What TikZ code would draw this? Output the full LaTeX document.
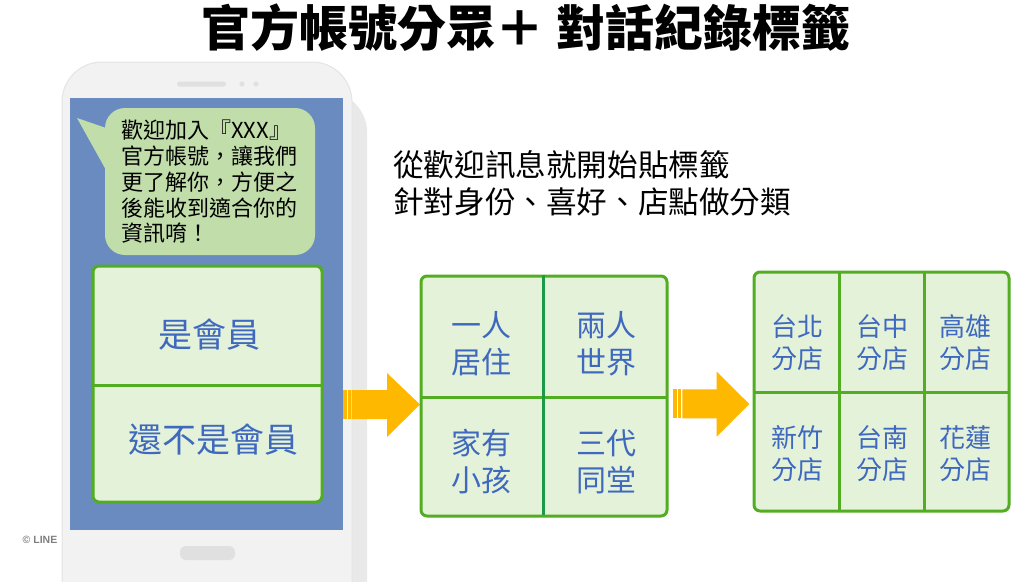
\documentclass[tikz,border=0pt]{standalone}
\usepackage{fontspec}
\newfontfamily\cjk{Noto Sans CJK TC}
\newfontfamily\lsans{Liberation Sans}
\definecolor{tblue}{HTML}{3F68BF}
\definecolor{boxfill}{HTML}{E4F2D9}
\definecolor{boxedge}{HTML}{52AD22}
\definecolor{darkdiv}{HTML}{1C9B45}
\definecolor{scrblue}{HTML}{6A8BBF}
\definecolor{bubble}{HTML}{C0DDAA}
\definecolor{arrowc}{HTML}{FFB800}
\definecolor{phbody}{HTML}{F2F2F2}
\definecolor{phedge}{HTML}{E4E4E4}
\definecolor{phshadow}{HTML}{E9E9E9}
\definecolor{phdark}{HTML}{E0E0E0}
\begin{document}
\begin{tikzpicture}[x=1pt,y=-1pt,
  panel/.style={fill=boxfill, draw=boxedge, line width=3pt, rounded corners=6pt, inner sep=0pt},
  divider/.style={draw=boxedge, line width=3pt},
  lbl/.style={font=\cjk\fontsize{30}{37}\selectfont, text=tblue, align=center, inner sep=0pt},
  shop/.style={font=\cjk\fontsize{26}{32}\selectfont, text=tblue, align=center, inner sep=0pt},
  menutext/.style={font=\cjk\fontsize{34}{40}\selectfont, text=tblue, inner sep=0pt},
  blockarrow/.style={fill=arrowc}]
\useasboundingbox (0,0) rectangle (1024,581);
\fill[white] (0,0) rectangle (1024,581);

% title and subtitle
\node[font=\cjk\bfseries\fontsize{49}{55}\selectfont, inner sep=0pt] (title) at (526,28) {官方帳號分眾＋ 對話紀錄標籤};
\node[anchor=west, align=left, font=\cjk\fontsize{30.6}{37}\selectfont, inner sep=0pt] (sub) at (393,183.5) {從歡迎訊息就開始貼標籤\\針對身份、喜好、店點做分類};

% phone
\begin{scope}
\clip (0,0) rectangle (1024,581);
\fill[phshadow, rounded corners=40pt] (74,92) rectangle (367,650);
\filldraw[fill=phbody, draw=phedge, line width=1pt, rounded corners=40pt] (62,62) rectangle (352,640);
\end{scope}
\fill[phdark, rounded corners=2.5pt] (177,81.5) rectangle (226,86.5);
\fill[phdark] (242,84) circle (2.6) (256,84) circle (2.6);
\fill[phdark, rounded corners=6pt] (180,546) rectangle (235,560);
\node[fill=scrblue, minimum width=273pt, minimum height=432pt, inner sep=0pt] (screen) at (206.5,314) {};

% speech bubble
\fill[bubble] (77,118) -- (112,130) -- (106,170) -- cycle;
\node[fill=bubble, rounded corners=20pt, minimum width=210pt, minimum height=147pt, inner sep=0pt] (bubble) at (210,181.5) {};
\node[anchor=west, align=left, font=\cjk\fontsize{22}{25.75}\selectfont, inner sep=0pt] (btext) at (121,182) {歡迎加入『XXX』\\官方帳號，讓我們\\更了解你，方便之\\後能收到適合你的\\資訊唷！};

% rich menu
\node[panel, minimum width=229pt, minimum height=236pt] (menu) at (207.5,384) {};
\draw[divider] (93,385) -- (322,385);
\node[menutext] (m1) at (209,335) {是會員};
\node[menutext] (m2) at (213,440) {還不是會員};

% arrow 1
\fill[blockarrow] (343.3,390) rectangle (346.7,419);
\fill[blockarrow] (348.3,390) rectangle (350.7,419);
\fill[blockarrow] (351.7,390) -- (387,390) -- (387,373) -- (420,404.5) -- (387,437) -- (387,419) -- (351.7,419) -- cycle;

% box 2
\node[panel, minimum width=246pt, minimum height=240pt] (life) at (544,396) {};
\draw[divider] (421,397) -- (667,397);
\draw[draw=darkdiv, line width=3pt] (543,275) -- (543,515);
\node[lbl] (l1) at (481,343.5) {一人\\居住};
\node[lbl] (l2) at (606,343.5) {兩人\\世界};
\node[lbl] (l3) at (481,461.5) {家有\\小孩};
\node[lbl] (l4) at (606,461.5) {三代\\同堂};

% arrow 2
\fill[blockarrow] (672.7,389.3) rectangle (676.7,418.3);
\fill[blockarrow] (678.3,389.3) rectangle (680.7,418.3);
\fill[blockarrow] (682.3,389.3) -- (716.7,389.3) -- (716.7,371.7) -- (749.3,404) -- (716.7,436.7) -- (716.7,418.3) -- (682.3,418.3) -- cycle;

% box 3
\node[panel, minimum width=255pt, minimum height=239pt] (shops) at (881.5,391.5) {};
\draw[divider] (754,392) -- (1009,392);
\draw[divider] (839,272) -- (839,511);
\draw[divider] (924,272) -- (924,511);
\node[shop] (s1) at (797,342.5) {台北\\分店};
\node[shop] (s2) at (882,342.5) {台中\\分店};
\node[shop] (s3) at (965,342.5) {高雄\\分店};
\node[shop] (s4) at (797,453.5) {新竹\\分店};
\node[shop] (s5) at (882,453.5) {台南\\分店};
\node[shop] (s6) at (965,453.5) {花蓮\\分店};

% copyright
\node[font=\lsans\bfseries\fontsize{10.5}{12}\selectfont, text=black!50, inner sep=0pt] (copy) at (40,540) {© LINE};
\end{tikzpicture}
\end{document}
